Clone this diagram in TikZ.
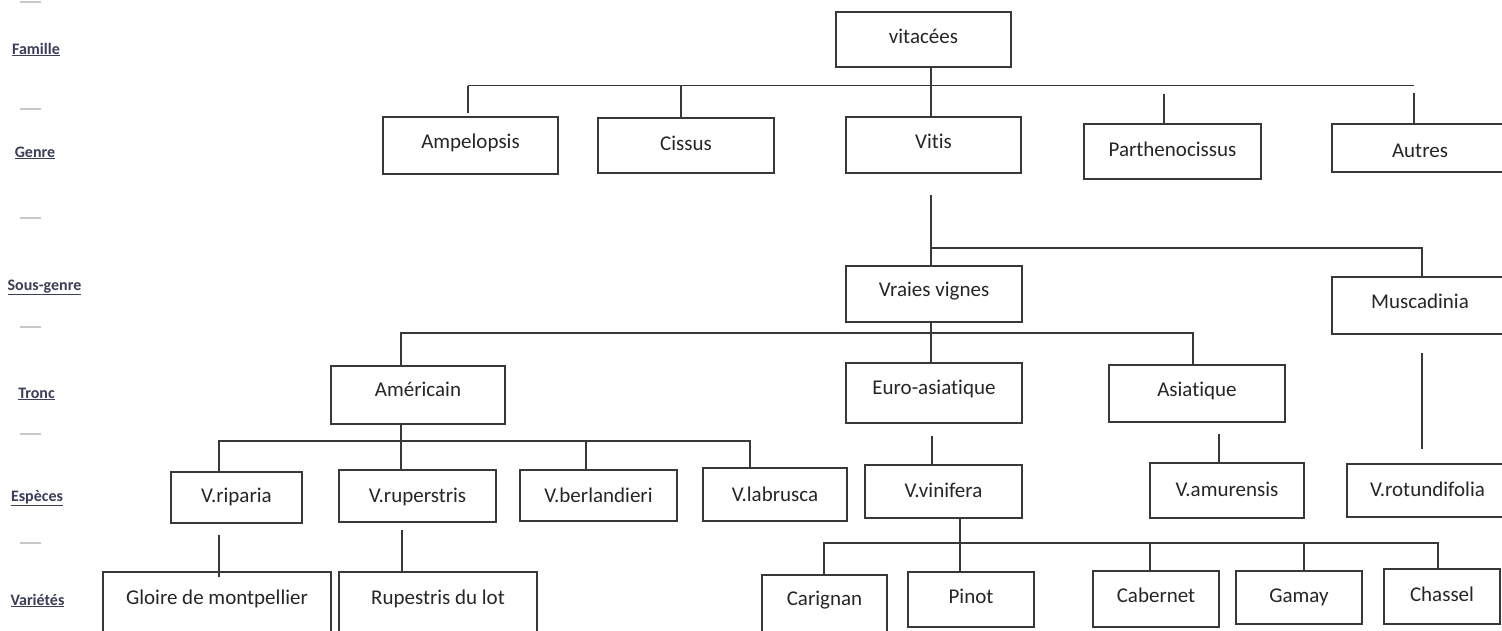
\documentclass[tikz,border=0pt]{standalone}
\usepackage{fontspec}
\setmainfont{Carlito}[Ligatures=NoCommon]
\definecolor{ink}{HTML}{383838}
\definecolor{txtc}{HTML}{262626}
\definecolor{labc}{HTML}{3A3E58}
\definecolor{dashc}{HTML}{C8C8C8}
\tikzset{
  boxst/.style={draw=ink, line width=1.8pt, inner sep=0pt, outer sep=0pt, fill=white},
  txt/.style={text=txtc, font=\fontsize{21}{25}\selectfont, inner sep=0pt},
  ln/.style={draw=ink, line width=1.8pt},
  lab/.style={text=labc, font=\fontsize{16}{19}\selectfont\bfseries, inner sep=0pt, anchor=base},
  dsh/.style={draw=dashc, line width=1.2pt}
}
\newcommand\bx[7]{%
  \node[boxst, minimum width={(#4-#2)*1pt}, minimum height={(#5-#3)*1pt}] (#1) at ({(#2+#4)/2},{(#3+#5)/2}) {};
  \node[txt, anchor=base] (#1-t) at ({(#2+#4)/2},#6) {#7};
}
\begin{document}
\begin{tikzpicture}[x=1pt,y=-1pt]
\useasboundingbox (0,0) rectangle (1502,630);
\fill[white] (0,0) rectangle (1502,630);

% left column labels
\node[lab] (lfam) at (36,54) {\underline{Famille}};
\node[lab] (lgen) at (35,157) {\underline{Genre}};
\node[lab] (lsg) at (44.5,290) {\underline{Sous-genre}};
\node[lab] (ltr) at (36.5,398) {\underline{Tronc}};
\node[lab] (lesp) at (37,501) {\underline{Espèces}};
\node[lab] (lvar) at (37.5,605) {\underline{Variétés}};
\foreach \yy/\nm in {2/d1,109/d2,218/d3,327/d4,434/d5,543/d6}{
  \coordinate (\nm a) at (20,\yy); \coordinate (\nm b) at (41,\yy);
  \draw[dsh] (\nm a) -- (\nm b);
}

% boxes
\bx{vitacees}{836}{12}{1011}{67}{43}{vitacées}
\bx{ampelopsis}{383}{117}{558}{174}{148}{Ampelopsis}
\bx{cissus}{598}{118}{774}{173}{150}{Cissus}
\bx{vitis}{846}{117}{1021}{173}{148}{Vitis}
\bx{parth}{1084}{124}{1261}{179}{156}{Parthenocissus}
\bx{autres}{1332}{124}{1508}{172}{157}{Autres}
\bx{vraies}{846}{266}{1022}{322}{296}{Vraies vignes}
\bx{musc}{1332}{277}{1508}{334}{308}{Muscadinia}
\bx{amer}{331}{366}{505}{424}{396}{Américain}
\bx{euro}{846}{363}{1022}{423}{394}{Euro-asiatique}
\bx{asia}{1109}{365}{1285}{422}{396}{Asiatique}
\bx{vrip}{171}{472}{302}{523}{502}{V.riparia}
\bx{vrup}{339}{470}{496}{522}{502}{V.ruperstris}
\bx{vber}{520}{470}{677}{521}{502}{V.berlandieri}
\bx{vlab}{703}{468}{847}{521}{501}{V.labrusca}
\bx{vvin}{865}{465}{1022}{518}{497}{V.vinifera}
\bx{vamu}{1150}{463}{1304}{518}{496}{V.amurensis}
\bx{vrot}{1347}{464}{1508}{517}{496}{V.rotundifolia}
\bx{gloire}{103}{572}{331}{645}{604}{Gloire de montpellier}
\bx{rupe}{339}{572}{537}{645}{604}{Rupestris du lot}
\bx{carig}{762}{575}{887}{645}{605}{Carignan}
\bx{pinot}{908}{572}{1034}{627}{603}{Pinot}
\bx{caber}{1093}{571}{1219}{627}{602}{Cabernet}
\bx{gamay}{1236}{571}{1362}{624}{602}{Gamay}
\bx{chass}{1384}{569}{1500}{624}{601}{Chassel}

% level 1 connectors
\coordinate (xv) at (931,0);
\coordinate (h1l) at (468,85.5);
\coordinate (h1r) at (1414,85.5);
\draw[ln] (h1l) -- (h1r);
\draw[ln] (xv |- vitacees.south) -- (xv |- vitis.north);
\coordinate (t1) at (468,113);
\draw[ln] (h1l) -- (t1);
\coordinate (c1) at (681,85.5);
\draw[ln] (c1) -- (c1 |- cissus.north);
\coordinate (p1) at (1164,94);
\draw[ln] (p1) -- (p1 |- parth.north);
\coordinate (a1) at (1414,93);
\draw[ln] (a1) -- (a1 |- autres.north);

% level 2
\coordinate (v2) at (931,195);
\draw[ln] (v2) -- (v2 |- vraies.north);
\coordinate (h2l) at (931,248);
\coordinate (h2r) at (1422,248);
\draw[ln] (h2l) -- (h2r) -- (h2r |- musc.north);

% level 3
\coordinate (h3l) at (401,333);
\coordinate (h3r) at (1193,333);
\draw[ln] (xv |- vraies.south) -- (xv |- euro.north);
\draw[ln] (h3l |- amer.north) -- (h3l) -- (h3r) -- (h3r |- asia.north);
\coordinate (m3a) at (1422,353);
\coordinate (m3b) at (1422,449);
\draw[ln] (m3a) -- (m3b);

% level 4
\coordinate (h4l) at (219,441);
\coordinate (h4r) at (750,441);
\draw[ln] (h3l |- amer.south) -- (h3l |- vrup.north);
\draw[ln] (h4l |- vrip.north) -- (h4l) -- (h4r) -- (h4r |- vlab.north);
\coordinate (b4) at (586,441);
\draw[ln] (b4) -- (b4 |- vber.north);
\coordinate (e4) at (932,436);
\draw[ln] (e4) -- (e4 |- vvin.north);
\coordinate (s4) at (1219,434);
\draw[ln] (s4) -- (s4 |- vamu.north);

% level 5
\coordinate (r5a) at (219,535);
\coordinate (r5b) at (219,577);
\draw[ln] (r5a) -- (r5b);
\coordinate (u5) at (402,530);
\draw[ln] (u5) -- (u5 |- rupe.north);
\coordinate (h5l) at (824,543);
\coordinate (h5r) at (1438,543);
\coordinate (xp) at (960,0);
\draw[ln] (xp |- vvin.south) -- (xp |- pinot.north);
\draw[ln] (h5l |- carig.north) -- (h5l) -- (h5r) -- (h5r |- chass.north);
\coordinate (cb5) at (1150,543);
\draw[ln] (cb5) -- (cb5 |- caber.north);
\coordinate (gm5) at (1304,543);
\draw[ln] (gm5) -- (gm5 |- gamay.north);
\end{tikzpicture}
\end{document}
